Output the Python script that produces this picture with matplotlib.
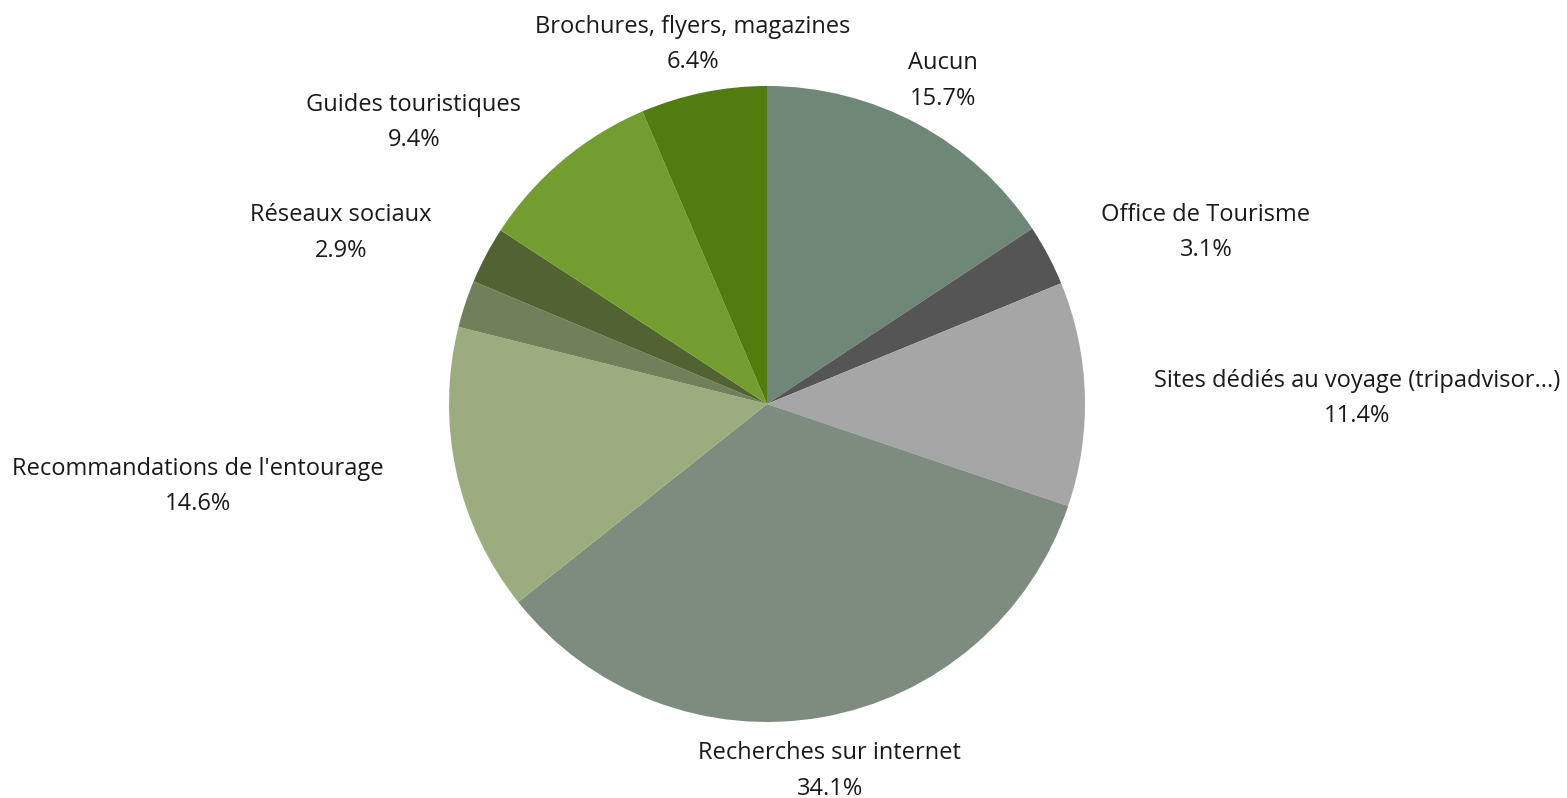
import matplotlib
matplotlib.use("Agg")
import matplotlib.pyplot as plt
import numpy as np

# Sources d'information (ordre horaire depuis midi)
labels = ["Aucun", "Office de Tourisme", "Sites dédiés au voyage (tripadvisor...)",
          "Recherches sur internet", "Recommandations de l'entourage", "",
          "Réseaux sociaux", "Guides touristiques", "Brochures, flyers, magazines"]
values = [15.7, 3.1, 11.4, 34.1, 14.6, 2.4, 2.9, 9.4, 6.4]
colors = ["#6E8776", "#555555", "#A6A6A6", "#7E8C80", "#9BAD7E",
          "#71805A", "#516233", "#739D2E", "#507D0D"]

# placement des étiquettes : (distance en rayons, angle en degrés)
label_pos = [(1.165, 61.6), (1.486, 21.7), (1.855, 0.8), (1.162, -80.2),
             (1.807, 188.0), None, (1.447, 157.8), (1.425, 141.2), (1.162, 101.6)]

W, H = 1567, 798
cx, cy, R = 767, 404, 318

fig = plt.figure(figsize=(W / 100, H / 100), dpi=100)
ax = fig.add_axes([0, 0, 1, 1])
ax.pie(values, colors=colors, startangle=90, counterclock=False,
       radius=1.0, wedgeprops=dict(linewidth=0))
ax.set_xlim(-cx / R, (W - cx) / R)
ax.set_ylim(-(H - cy) / R, cy / R)
ax.set_aspect("auto")
ax.axis("off")

total = sum(values)
for lab, val, pos in zip(labels, values, label_pos):
    if pos is None:
        continue
    r, a = pos
    x, y = r * np.cos(np.radians(a)), r * np.sin(np.radians(a)) - 0.009
    pct = val / total * 100
    ax.text(x, y, f"{lab}\n{pct:.1f}%", ha="center", va="center",
            fontsize=17, family="Open Sans", color="#1a1a1a", linespacing=1.62)

fig.savefig("out.png", dpi=100)
